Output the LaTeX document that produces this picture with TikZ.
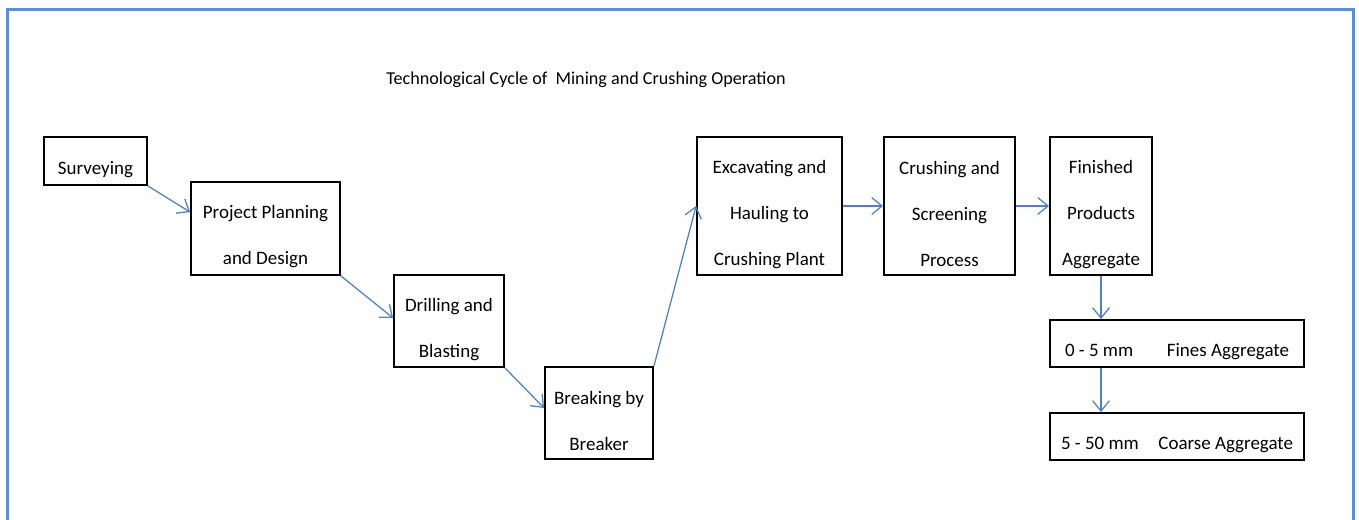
\documentclass[tikz,border=0pt]{standalone}
\usepackage{fontspec}
\setmainfont{Carlito}
\usetikzlibrary{arrows.meta,positioning}
\definecolor{frameblue}{RGB}{91,142,214}
\definecolor{arrowblue}{RGB}{79,129,189}
\tikzstyle{arrow} = [line width=0.9pt, arrowblue, -{Straight Barb[length=2.6mm,width=4.2mm]}]
\newcommand{\up}{\rule{0pt}{7.4mm}}

\begin{document}
\begin{tikzpicture}
\tikzset{stage/.style={draw=black,line width=1.3pt,align=center,inner sep=2pt,
  font=\fontsize{13.5}{32.7}\selectfont}}
\useasboundingbox (0,0) rectangle (33.975,13);
\draw[frameblue,line width=0.075cm] (0.175,-0.5) -- (0.175,12.75) -- (33.825,12.75) -- (33.825,-0.5);

\node[font=\fontsize{12.9}{15}\selectfont] (title) at (14.65,11.0) {Technological Cycle of\ \ Mining and Crushing Operation};

\node[stage,minimum width=2.575cm,minimum height=1.2cm] (surv) at (2.3875,8.975) {\up Surveying};
\node[stage,minimum width=3.725cm,minimum height=2.325cm] (pp) at (6.6375,7.2875) {\up Project Planning\\and Design};
\node[stage,minimum width=2.75cm,minimum height=2.3cm] (dr) at (11.225,4.975) {\up Drilling and\\Blasting};
\node[stage,minimum width=2.7cm,minimum height=2.3cm] (brk) at (14.975,2.675) {\up Breaking by\\Breaker};
\node[stage,minimum width=3.625cm,minimum height=3.45cm] (exc) at (19.2375,7.85) {\up Excavating and\\Hauling to\\Crushing Plant};
\node[stage,minimum width=3.275cm,minimum height=3.45cm] (cru) at (23.7375,7.85) {\up Crushing and\\Screening\\Process};
\node[stage,minimum width=2.55cm,minimum height=3.45cm] (fin) at (27.525,7.85) {\up Finished\\Products\\Aggregate};
\node[stage,minimum width=6.35cm,minimum height=1.175cm] (fines) at (29.425,4.4125) {\up\makebox[5.6cm]{0 - 5 mm\hfill Fines Aggregate}};
\node[stage,minimum width=6.35cm,minimum height=1.175cm] (coarse) at (29.425,2.0875) {\up\makebox[5.8cm]{5 - 50 mm\hfill Coarse Aggregate}};

\draw[arrow] (surv.south east) -- ([yshift=0.41cm]pp.west);
\draw[arrow] (pp.south east) -- ([yshift=0.075cm]dr.west);
\draw[arrow] (dr.south east) -- ([yshift=0.125cm]brk.west);
\draw[arrow] (brk.north east) -- (exc.west);
\draw[arrow] (exc.east) -- (cru.west);
\draw[arrow] (cru.east) -- (fin.west);
\draw[arrow] (fin.south) -- (fin.south |- fines.north);
\draw[arrow] (fin.south |- fines.south) -- (fin.south |- coarse.north);

\end{tikzpicture}
\end{document}
